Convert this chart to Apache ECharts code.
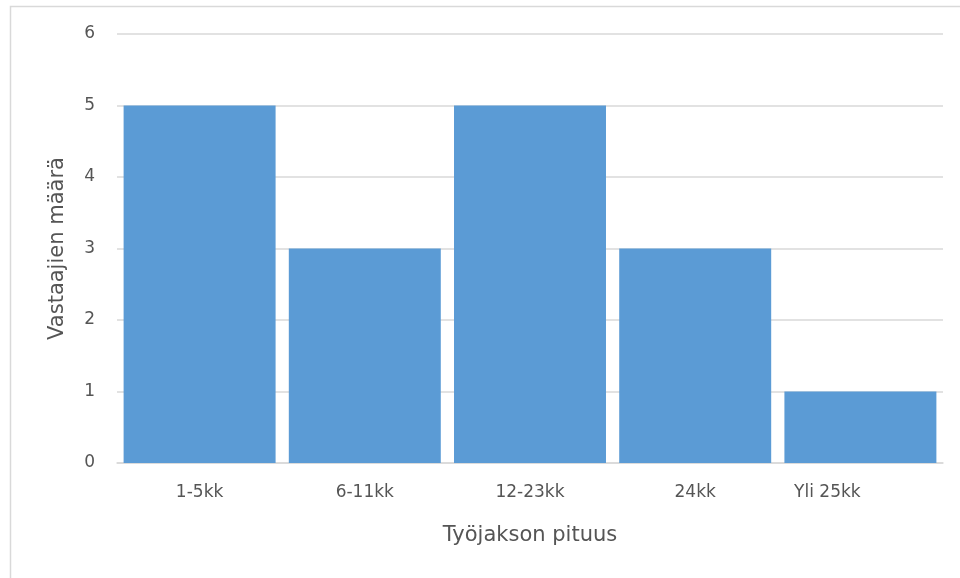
<!DOCTYPE html>
<html>
<head>
<meta charset="utf-8">
<script src="https://cdn.jsdelivr.net/npm/echarts@6/dist/echarts.min.js"></script>
<style>
  html, body { margin: 0; padding: 0; background: #fff; }
  #chart { width: 960px; height: 578px; }
</style>
</head>
<body>
<div id="chart"></div>
<script>
// Responses by length of work period
const categories = ['1-5kk', '6-11kk', '12-23kk', '24kk', 'Yli 25kk'];
const counts = [5, 3, 5, 3, 1];
const yTicks = [0, 1, 2, 3, 4, 5, 6];

const chart = echarts.init(document.getElementById('chart'), null, { renderer: 'canvas' });
const textColor = '#555555';
const font = '"DejaVu Sans", Verdana, sans-serif';

// The last category label sits a little left of its bar centre
const categoryData = categories.map((c, i) =>
  i === categories.length - 1
    ? { value: c, textStyle: { padding: [0, 66, 0, 0] } }
    : c
);

chart.setOption({
  animation: false,
  backgroundColor: '#ffffff',
  graphic: [{
    type: 'rect',
    shape: { x: 10.5, y: 6.5, width: 980, height: 600 },
    style: { fill: 'none', stroke: '#d9d9d9', lineWidth: 1.5 },
    silent: true
  }],
  grid: { left: 117, right: 17, top: 34, bottom: 115, containLabel: false },
  xAxis: {
    type: 'category',
    data: categoryData,
    name: 'Työjakson pituus',
    nameLocation: 'middle',
    nameGap: 62,
    nameTextStyle: { color: textColor, fontSize: 21, fontFamily: font },
    axisLine: { show: true, lineStyle: { color: '#d9d9d9', width: 1.5 } },
    axisTick: { show: false },
    axisLabel: { color: textColor, fontSize: 17, fontFamily: font, margin: 21 }
  },
  yAxis: {
    type: 'value',
    min: yTicks[0],
    max: yTicks[yTicks.length - 1],
    interval: 1,
    name: 'Vastaajien määrä',
    nameLocation: 'middle',
    nameGap: 49,
    nameTextStyle: { color: textColor, fontSize: 21, fontFamily: font },
    axisLine: { show: false },
    axisTick: { show: false },
    axisLabel: { color: textColor, fontSize: 17, fontFamily: font, margin: 22 },
    splitLine: { lineStyle: { color: '#d9d9d9', width: 1.5 } }
  },
  series: [{
    type: 'bar',
    data: counts,
    barCategoryGap: '8%',
    itemStyle: { color: '#5b9bd5' }
  }]
});
</script>
</body>
</html>
